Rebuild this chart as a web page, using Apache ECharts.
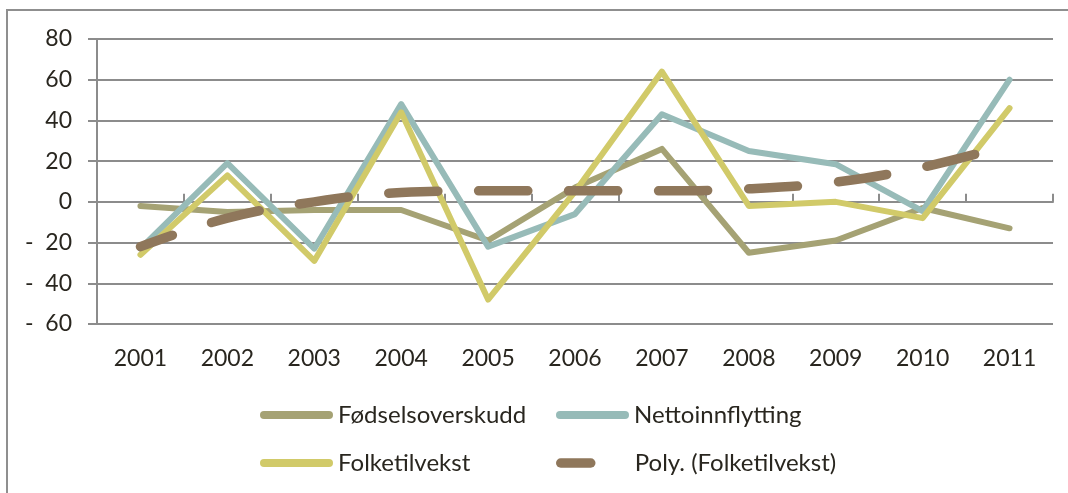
<!DOCTYPE html>
<html>
<head>
<meta charset="utf-8">
<script src="https://cdn.jsdelivr.net/npm/echarts@6/dist/echarts.min.js"></script>
<style>
html, body { margin: 0; padding: 0; background: #fff; }
#container { width: 1068px; height: 493px; }
</style>
</head>
<body>
<div id="container"></div>
<script>
var years = ['2001', '2002', '2003', '2004', '2005', '2006', '2007', '2008', '2009', '2010', '2011'];
var fodselsoverskudd = [-2, -5, -4, -4, -19, 7, 26, -25, -19, -3, -13];
var nettoinnflytting = [-23, 19, -23, 48, -22, -6, 43, 25, 18.5, -4.5, 60];
var folketilvekst = [-26, 13, -29, 44, -48, 5, 64, -2, 0, -8, 46];
var polyFolketilvekst = [-22, -8, 0, 4.6, 5.4, 5.4, 5.4, 6.4, 9.7, 17, 28];
var yMin = -60, yMax = 80, yStep = 20;

var gridGray = '#8c8c8c';
var textColor = '#29261f';
var fontName = 'Lato';

var dom = document.getElementById('container');
var myChart = echarts.init(dom);

function legendAt(name, left, top, color, width, dash) {
    return {
        data: [name],
        left: left,
        top: top,
        padding: 0,
        itemWidth: 65,
        itemHeight: 14,
        selectedMode: false,
        itemStyle: { opacity: 0 },
        lineStyle: {
            color: color,
            width: width,
            cap: 'round',
            type: dash ? [49, 41] : 'solid',
            dashOffset: dash ? 19 : 0
        },
        textStyle: { color: textColor, fontSize: 24, fontFamily: fontName, padding: [0, 0, 0, 4] }
    };
}

var option = {
    animation: false,
    graphic: [{
        type: 'rect',
        shape: { x: 7, y: 10, width: 1200, height: 700 },
        style: { fill: 'none', stroke: '#8f8f8f', lineWidth: 2 },
        silent: true
    }],
    legend: [
        legendAt('Fødselsoverskudd', 260, 403, '#a5a274', 8, false),
        legendAt('Nettoinnflytting', 556, 403, '#97bbb8', 8, false),
        legendAt('Folketilvekst', 260, 451, '#d1ca69', 8, false),
        legendAt('Poly. (Folketilvekst)', 556, 451, '#8f775b', 9.5, true)
    ],
    grid: { left: 97, right: 15, top: 39, bottom: 169 },
    xAxis: [{
        type: 'category',
        data: years,
        axisLine: { onZero: true, lineStyle: { color: gridGray, width: 2 } },
        axisTick: { show: true, inside: true, length: 8, lineStyle: { color: gridGray, width: 2 } },
        axisLabel: { show: false },
        splitLine: { show: false }
    }, {
        type: 'category',
        data: years,
        position: 'bottom',
        axisLine: { show: false, onZero: false },
        axisTick: { show: false },
        axisLabel: { color: textColor, fontSize: 23, fontFamily: fontName, margin: 23 }
    }],
    yAxis: {
        type: 'value',
        min: yMin,
        max: yMax,
        interval: yStep,
        axisLine: { show: true, lineStyle: { color: gridGray, width: 2 } },
        axisTick: { show: true, length: 9, lineStyle: { color: gridGray, width: 2 } },
        splitLine: { lineStyle: { color: gridGray, width: 2 } },
        axisLabel: {
            color: textColor, fontSize: 23, fontFamily: fontName, margin: 25,
            formatter: function (v) { return v < 0 ? '-  ' + (-v) : String(v); }
        }
    },
    series: [
        {
            name: 'Fødselsoverskudd', type: 'line', data: fodselsoverskudd, symbol: 'none',
            itemStyle: { color: '#a5a274' },
            lineStyle: { color: '#a5a274', width: 6, cap: 'round', join: 'round' }
        },
        {
            name: 'Nettoinnflytting', type: 'line', data: nettoinnflytting, symbol: 'none',
            itemStyle: { color: '#97bbb8' },
            lineStyle: { color: '#97bbb8', width: 6, cap: 'round', join: 'round' }
        },
        {
            name: 'Folketilvekst', type: 'line', data: folketilvekst, symbol: 'none',
            itemStyle: { color: '#d1ca69' },
            lineStyle: { color: '#d1ca69', width: 6, cap: 'round', join: 'round' }
        },
        {
            name: 'Poly. (Folketilvekst)', type: 'line', data: polyFolketilvekst, symbol: 'none',
            smooth: 0.4,
            itemStyle: { color: '#8f775b' },
            lineStyle: { color: '#8f775b', width: 9.5, cap: 'round', join: 'round', type: [49, 41], dashOffset: 15 }
        }
    ]
};

if (option && typeof option === 'object') {
    myChart.setOption(option, true);
}
</script>
</body>
</html>
